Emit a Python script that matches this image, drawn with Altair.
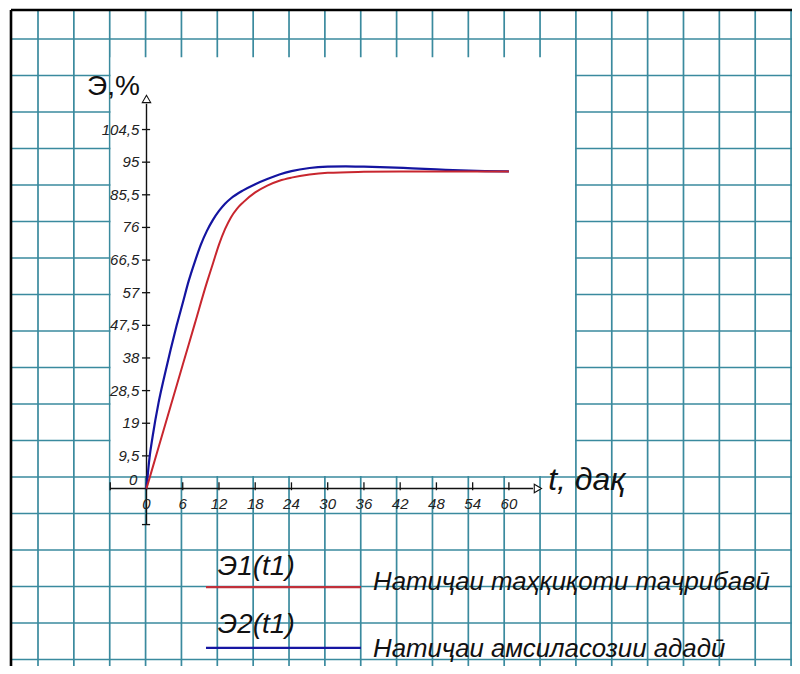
import altair as alt
import pandas as pd

# ---------------- data ----------------
t_experiment = [0, 2, 4, 6, 8, 10, 11, 12, 13, 14, 15, 16, 18, 20, 22, 24, 27, 30, 36, 42, 48, 54, 60]
e_experiment = [0, 12, 24, 36, 48, 60, 65.5, 71, 75.5, 79, 81.5, 83.3, 86.2, 88.2, 89.6, 90.5, 91.4,
                91.9, 92.2, 92.3, 92.3, 92.3, 92.3]
t_model = [0, 0.5, 1, 2, 3, 4, 5, 6, 7, 8, 9, 10, 11, 12, 13, 14, 16, 18, 20, 22, 24, 27, 30, 33, 36,
           40, 44, 48, 52, 56, 60]
e_model = [0, 9, 15, 25, 33, 40.5, 47.5, 54, 60.5, 66, 71, 75, 78.2, 80.8, 82.9, 84.5, 86.8, 88.6, 90.1,
           91.4, 92.4, 93.3, 93.7, 93.8, 93.7, 93.5, 93.2, 92.9, 92.6, 92.4, 92.3]

x_tick_values = [0, 6, 12, 18, 24, 30, 36, 42, 48, 54, 60]
y_tick_values = [9.5, 19, 28.5, 38, 47.5, 57, 66.5, 76, 85.5, 95, 104.5]
y_tick_labels = ["9,5", "19", "28,5", "38", "47,5", "57", "66,5", "76", "85,5", "95", "104,5"]
series_names = ["Э1(t1)", "Э2(t1)"]
series_notes = ["Натиҷаи таҳқиқоти таҷрибавӣ", "Натиҷаи амсиласозии ададӣ"]
y_title = "Э,%"
x_title = "t, дақ"

paper_cols = list(range(1, 23))   # squared paper, column lines (in cells)
paper_rows = list(range(1, 19))   # squared paper, row lines (in cells)

# ---------------- styling / layout ----------------
W, H = 784, 658
FONT = "Liberation Sans"
RED = "#c8262e"
BLUE = "#1414a0"
GRID = "#3a8a9e"
INK = "#111111"

XS = alt.Scale(domain=[-22.93, 106.87], nice=False, zero=False)
YS = alt.Scale(domain=[-51.67, 139.88], nice=False, zero=False)
PX = alt.Scale(domain=[0.1634, 22.026], nice=False, zero=False)
PY = alt.Scale(domain=[0.1507, 18.178], nice=False, zero=False, reverse=True)


def dx(f):
    return alt.X(f, type="quantitative", scale=XS, axis=None)


def dy(f):
    return alt.Y(f, type="quantitative", scale=YS, axis=None)


def px(f):
    return alt.X(f, type="quantitative", scale=PX, axis=None)


def py(f):
    return alt.Y(f, type="quantitative", scale=PY, axis=None)


# ---------------- squared paper ----------------
frame_left, frame_top = 0.247, 0.2055
paper_right, paper_bottom = 22.3, 18.4

vdf = pd.DataFrame({"k": paper_cols, "a": frame_top, "b": paper_bottom})
hdf = pd.DataFrame({"k": paper_rows, "a": frame_left, "b": paper_right})
v_lines = alt.Chart(vdf).mark_rule(color=GRID, strokeWidth=1.7).encode(
    x=px("k"), y=py("a"), y2=alt.Y2("b"))
h_lines = alt.Chart(hdf).mark_rule(color=GRID, strokeWidth=1.7).encode(
    y=py("k"), x=px("a"), x2=alt.X2("b"))

white = alt.Chart(pd.DataFrame({"x0": [3.025], "x1": [15.975], "y0": [1.5], "y1": [12.975]})).mark_rect(
    color="white", opacity=1).encode(x=px("x0"), x2=alt.X2("x1"), y=py("y0"), y2=alt.Y2("y1"))

frame_v = alt.Chart(pd.DataFrame({"k": [frame_left], "a": [frame_top], "b": [paper_bottom]})).mark_rule(
    color="black", strokeWidth=2.6).encode(x=px("k"), y=py("a"), y2=alt.Y2("b"))
frame_h = alt.Chart(pd.DataFrame({"k": [frame_top], "a": [frame_left], "b": [paper_right]})).mark_rule(
    color="black", strokeWidth=2.6).encode(y=py("k"), x=px("a"), x2=alt.X2("b"))

# ---------------- axes ----------------
x_axis = alt.Chart(pd.DataFrame({"a": [-6], "b": [64], "y": [0]})).mark_rule(
    color=INK, strokeWidth=1.4).encode(x=dx("a"), x2=alt.X2("b"), y=dy("y"))
y_axis = alt.Chart(pd.DataFrame({"x": [0], "a": [-10.5], "b": [112]})).mark_rule(
    color=INK, strokeWidth=1.4).encode(x=dx("x"), y=dy("a"), y2=alt.Y2("b"))

x_ticks = alt.Chart(pd.DataFrame({"t": [-6] + x_tick_values, "a": -0.5, "b": 1.8})).mark_rule(
    color=INK, strokeWidth=1.3).encode(x=dx("t"), y=dy("a"), y2=alt.Y2("b"))
y_ticks = alt.Chart(pd.DataFrame({"e": [-10.5] + y_tick_values, "a": -0.75, "b": 0.6})).mark_rule(
    color=INK, strokeWidth=1.3).encode(y=dy("e"), x=dx("a"), x2=alt.X2("b"))

arrow_x = alt.Chart(pd.DataFrame({"t": [64.8], "e": [0]})).mark_point(
    shape="triangle-right", size=70, fill="white", fillOpacity=1, stroke=INK, strokeWidth=1.1,
    opacity=1).encode(x=dx("t"), y=dy("e"))
arrow_y = alt.Chart(pd.DataFrame({"t": [0], "e": [113.4]})).mark_point(
    shape="triangle-up", size=70, fill="white", fillOpacity=1, stroke=INK, strokeWidth=1.1,
    opacity=1).encode(x=dx("t"), y=dy("e"))

x_labels = alt.Chart(pd.DataFrame({"t": x_tick_values, "lab": [str(v) for v in x_tick_values],
                                   "e": -4.4})).mark_text(
    font=FONT, fontStyle="italic", fontSize=15, color="#222222", align="center",
    baseline="middle").encode(x=dx("t"), y=dy("e"), text="lab:N")
y_labels = alt.Chart(pd.DataFrame({"e": y_tick_values, "lab": y_tick_labels, "t": -1.2})).mark_text(
    font=FONT, fontStyle="italic", fontSize=15, color="#222222", align="right",
    baseline="middle").encode(x=dx("t"), y=dy("e"), text="lab:N")
y_zero = alt.Chart(pd.DataFrame({"e": [0], "lab": ["0"], "t": -1.5})).mark_text(
    font=FONT, fontStyle="italic", fontSize=15, color="#222222", align="right",
    baseline="bottom", dy=-1).encode(x=dx("t"), y=dy("e"), text="lab:N")

y_title_m = alt.Chart(pd.DataFrame({"t": [-9.85], "e": [114.6], "lab": [y_title]})).mark_text(
    font=FONT, fontSize=28, color=INK, align="left", baseline="alphabetic").encode(
    x=dx("t"), y=dy("e"), text="lab:N")
x_title_m = alt.Chart(pd.DataFrame({"t": [66.5], "e": [-0.4], "lab": [x_title]})).mark_text(
    font=FONT, fontStyle="italic", fontSize=32, color=INK, align="left", baseline="alphabetic").encode(
    x=dx("t"), y=dy("e"), text="lab:N")

# ---------------- curves ----------------
model_line = alt.Chart(pd.DataFrame({"t": t_model, "e": e_model})).mark_line(
    color=BLUE, strokeWidth=2.2, interpolate="monotone").encode(x=dx("t"), y=dy("e"))
exp_line = alt.Chart(pd.DataFrame({"t": t_experiment, "e": e_experiment})).mark_line(
    color=RED, strokeWidth=2.0, interpolate="monotone").encode(x=dx("t"), y=dy("e"))

# ---------------- legend ----------------
leg_lines = alt.Chart(pd.DataFrame({"a": [9.85, 9.85], "b": [35.5, 35.5], "e": [-28.7, -46.4],
                                    "s": series_names})).mark_rule(strokeWidth=2.4).encode(
    x=dx("a"), x2=alt.X2("b"), y=dy("e"),
    color=alt.Color("s:N", scale=alt.Scale(domain=series_names, range=["#c0303a", "#1616a2"]), legend=None))
leg_names = alt.Chart(pd.DataFrame({"t": [11.8, 11.8], "e": [-25.2, -42.1], "lab": series_names})).mark_text(
    font=FONT, fontStyle="italic", fontSize=28, color=INK, align="left", baseline="alphabetic").encode(
    x=dx("t"), y=dy("e"), text="lab:N")
leg_notes = alt.Chart(pd.DataFrame({"t": [37.5, 37.5], "e": [-29.5, -49.1], "lab": series_notes})).mark_text(
    font=FONT, fontStyle="italic", fontSize=25.8, color=INK, align="left", baseline="alphabetic").encode(
    x=dx("t"), y=dy("e"), text="lab:N")

chart = alt.layer(
    v_lines, h_lines, white, frame_v, frame_h,
    x_axis, y_axis, x_ticks, y_ticks, arrow_x, arrow_y,
    x_labels, y_labels, y_zero, y_title_m, x_title_m,
    model_line, exp_line,
    leg_lines, leg_names, leg_notes,
).resolve_scale(x="independent", y="independent", color="independent").properties(
    width=W, height=H, padding=0, background="white",
    autosize=alt.AutoSizeParams(type="none"),
).configure_view(stroke=None)

chart.save("out.html", embed_options={"renderer": "svg", "actions": False})
